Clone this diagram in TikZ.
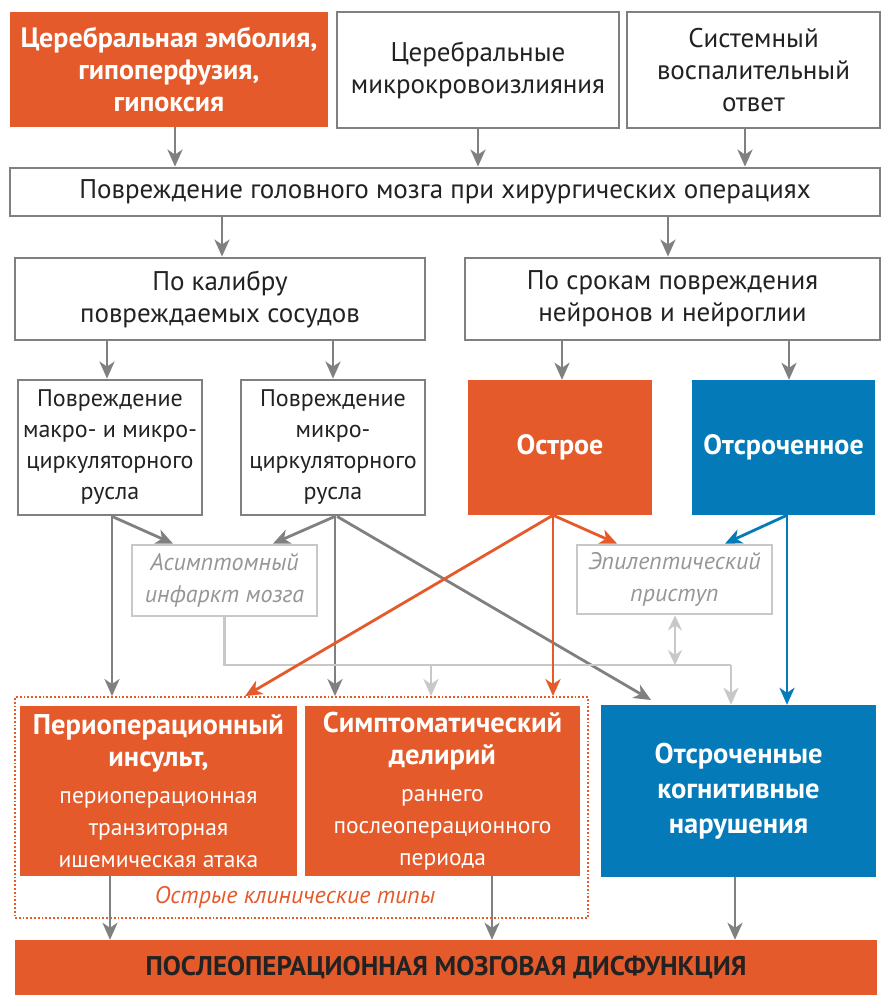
\documentclass[tikz,border=0pt]{standalone}
\usepackage{fontspec}
\setmainfont{PT Sans}
\usetikzlibrary{arrows.meta}
\definecolor{org}{RGB}{228,90,42}
\definecolor{blu}{RGB}{4,122,184}
\definecolor{grc}{RGB}{128,128,128}
\definecolor{lgr}{RGB}{200,200,200}
\definecolor{txt}{RGB}{34,34,34}
\definecolor{itx}{RGB}{150,150,150}
\tikzset{
  every node/.style={font=\fontsize{27}{32}\selectfont, text=txt, align=center, inner sep=0pt},
  wbox/.style={draw=grc, line width=2.8pt, fill=white, rectangle},
  obox/.style={fill=org, rectangle, text=white, font=\fontsize{28}{32}\selectfont\bfseries},
  bbox/.style={fill=blu, rectangle, text=white, font=\fontsize{28}{32}\selectfont\bfseries},
  lbox/.style={draw=lgr, line width=2.8pt, fill=white, rectangle, text=itx, font=\fontsize{24}{32}\selectfont\itshape},
  arr/.style={draw=grc, line width=2.8pt, -{Stealth[length=17pt,width=15pt,inset=5pt]}},
  oarr/.style={draw=org, line width=2.8pt, -{Stealth[length=17pt,width=15pt,inset=5pt]}},
  barr/.style={draw=blu, line width=2.8pt, -{Stealth[length=17pt,width=15pt,inset=5pt]}},
  larr/.style={draw=lgr, line width=2.8pt, -{Stealth[length=17pt,width=15pt,inset=5pt]}},
  lline/.style={draw=lgr, line width=2.8pt}
}
\newcommand{\bl}{\bfseries\fontsize{28.5}{32}\selectfont}
\newcommand{\rl}{\mdseries\fontsize{23.5}{29.5}\selectfont}
\begin{document}
\begin{tikzpicture}[x=1pt,y=-1pt]
\useasboundingbox[fill=white] (0,0) rectangle (892,1000);
% top row
\node[obox, minimum width=318pt, minimum height=115pt] (A) at (169,69.5) {Церебральная эмболия,\\гипоперфузия,\\гипоксия};
\node[wbox, minimum width=282pt, minimum height=116pt] (B) at (478,70) {Церебральные\\микрокровоизлияния};
\node[wbox, minimum width=253pt, minimum height=116pt] (C) at (753.5,70) {Системный\\воспалительный\\ответ};
\node[wbox, minimum width=870pt, minimum height=48pt] (M) at (445,192) {Повреждение головного мозга при хирургических операциях};
\node[wbox, minimum width=410pt, minimum height=82pt] (K) at (220,299) {По калибру\\повреждаемых сосудов};
\node[wbox, minimum width=415pt, minimum height=82pt] (S) at (672.5,299) {По срокам повреждения\\нейронов и нейроглии};
\node[wbox, minimum width=184pt, minimum height=135pt, font=\fontsize{24}{31}\selectfont] (D1) at (110,447.5) {Повреждение\\макро- и микро-\\циркуляторного\\русла};
\node[wbox, minimum width=184pt, minimum height=135pt, font=\fontsize{24}{31}\selectfont] (D2) at (333,447.5) {Повреждение\\микро-\\циркуляторного\\русла};
\node[obox, minimum width=184pt, minimum height=135pt] (O) at (560,447.5) {Острое};
\node[bbox, minimum width=183pt, minimum height=135pt] (T) at (783.5,447.5) {Отсроченное};
\node[lbox, minimum width=185pt, minimum height=71pt] (As) at (224.5,580.5) {Асимптомный\\инфаркт мозга};
\node[lbox, minimum width=195pt, minimum height=69pt] (Ep) at (674.5,579.5) {Эпилептический\\приступ};
% group
\node[draw=org, line width=1.8pt, dotted, minimum width=573pt, minimum height=221pt] (G) at (301.5,807.5) {};
\node[obox, minimum width=277pt, minimum height=170pt] (P) at (158.5,791) {\bl Периоперационный\\\bl инсульт,\\[5pt]\rl периоперационная\\\rl транзиторная\\\rl ишемическая атака};
\node[obox, minimum width=275pt, minimum height=170pt] (Sy) at (442.5,791) {\bl Симптоматический\\\bl делирий\\[5pt]\rl раннего\\\rl послеоперационного\\\rl периода};
\node[bbox, minimum width=275pt, minimum height=172pt, font=\fontsize{28.5}{35}\selectfont\bfseries] (Cg) at (738.5,791) {Отсроченные\\когнитивные\\нарушения};
\node[text=org, font=\fontsize{24}{28}\selectfont\itshape] (GL) at (295,897) {Острые клинические типы};
\node[fill=org, minimum width=862pt, minimum height=55pt, font=\fontsize{27}{30}\selectfont\bfseries, text=txt] (Bar) at (446,967.5) {ПОСЛЕОПЕРАЦИОННАЯ МОЗГОВАЯ ДИСФУНКЦИЯ};
% arrows top
\draw[arr] (175,0 |- A.south) -- (175,0 |- M.north);
\draw[arr] (478,0 |- B.south) -- (478,0 |- M.north);
\draw[arr] (745,0 |- C.south) -- (745,0 |- M.north);
\draw[arr] (222,0 |- M.south) -- (222,0 |- K.north);
\draw[arr] (668,0 |- M.south) -- (668,0 |- S.north);
\draw[arr] (107,0 |- K.south) -- (107,0 |- D1.north);
\draw[arr] (333,0 |- K.south) -- (333,0 |- D2.north);
\draw[arr] (562,0 |- S.south) -- (562,0 |- O.north);
\draw[arr] (789,0 |- S.south) -- (789,0 |- T.north);
% middle
\draw[arr] (112,0 |- D1.south) -- (112,0 |- G.north);
\draw[arr] (112,0 |- D1.south) -- (173,0 |- As.north);
\draw[arr] (335,0 |- D2.south) -- (273,0 |- As.north);
\draw[arr] (335,0 |- D2.south) -- (335,0 |- G.north);
\draw[arr] (337,0 |- D2.south) -- (651,700);
\draw[lline] (As.south) -- (As.south |- 0,665) -- (731,665);
\draw[larr] (731,665) -- (731,0 |- Cg.north);
\draw[larr] (431,665) -- (431,0 |- G.north);
\draw[draw=lgr, line width=2.8pt, {Stealth[length=15pt,width=14pt,inset=5pt]}-{Stealth[length=15pt,width=14pt,inset=5pt]}] (675,0 |- Ep.south) -- (675,665);
\draw[oarr] (553,0 |- O.south) -- (617,0 |- Ep.north);
\draw[oarr] (553,0 |- O.south) -- (245,0 |- G.north);
\draw[oarr] (553,0 |- O.south) -- (553,0 |- G.north);
\draw[barr] (787,0 |- T.south) -- (725,0 |- Ep.north);
\draw[barr] (787,0 |- T.south) -- (787,0 |- Cg.north);
% bottom
\draw[arr] (110,0 |- P.south) -- (110,0 |- Bar.north);
\draw[arr] (492,0 |- Sy.south) -- (492,0 |- Bar.north);
\draw[arr] (735,0 |- Cg.south) -- (735,0 |- Bar.north);
\end{tikzpicture}
\end{document}
